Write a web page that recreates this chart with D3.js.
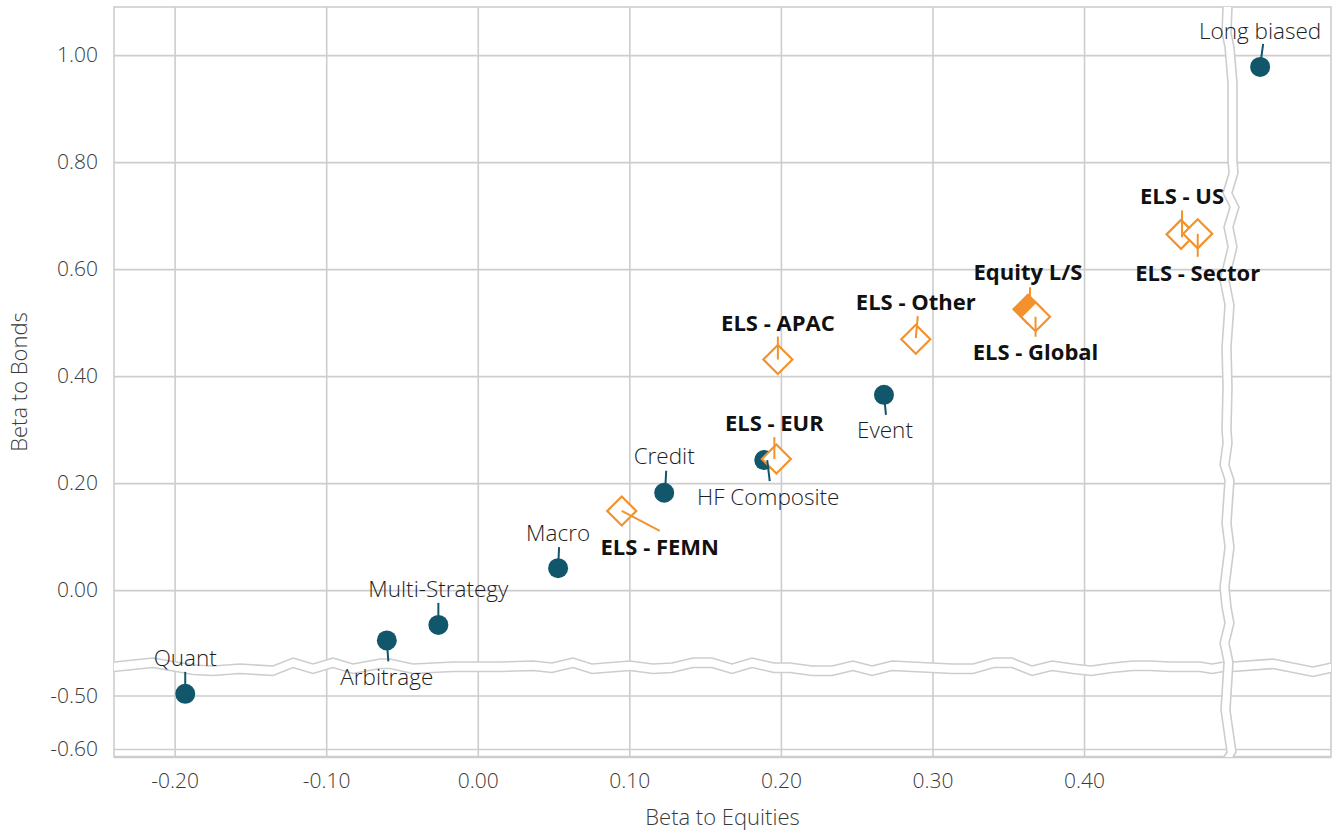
<!DOCTYPE html>
<html>
<head>
<meta charset="utf-8">
<script src="https://cdn.jsdelivr.net/npm/d3@7.9.0/dist/d3.min.js"></script>
<style>
body{margin:0;background:#fff;}
svg{display:block;font-family:"Open Sans","Noto Sans",sans-serif;}
.tick text{fill:#3a3a3a;font-size:21px;font-weight:300;}
.lbl{fill:#1e1e1e;font-size:22.5px;font-weight:300;}
.lbl.els{fill:#111;font-size:22px;font-weight:700;}
.ttl{fill:#3a3a3a;font-size:22px;font-weight:300;}
</style>
</head>
<body>
<svg width="1340" height="834"></svg>
<script>
// data
const names=['Quant','Arbitrage','Multi-Strategy','Macro','Credit','HF Composite','Event','Long biased',
 'ELS - FEMN','ELS - EUR','ELS - APAC','ELS - Other','Equity L/S','ELS - Global','ELS - US','ELS - Sector'];
const betaEquities=[-0.193,-0.060,-0.026,0.053,0.123,0.189,0.268,0.640,
 0.095,0.197,0.198,0.289,0.363,0.368,0.464,0.475];
const betaBonds=[-0.497,-0.094,-0.065,0.041,0.182,0.243,0.365,0.978,
 0.148,0.245,0.431,0.469,0.525,0.511,0.665,0.666];
const kind=['hf','hf','hf','hf','hf','hf','hf','hf','els','els','els','els','elsFull','els','els','els'];
const xTicks=[-0.2,-0.1,0,0.1,0.2,0.3,0.4];
const yTicksTop=[0,0.2,0.4,0.6,0.8,1.0];
const yTicksBot=[-0.5,-0.6];

// label placement (px offsets from the marker): [labelDx, labelDy, lineX1, lineY1, lineX2, lineY2]
const labelPlace={
 'Quant':[0,-28,0,-22,0,0],'Arbitrage':[0,45,0,0,1.5,21],'Multi-Strategy':[0,-28,0,-22,0,0],
 'Macro':[0,-27,1,-21,0,0],'Credit':[0,-29,2,-22,1,-3],'HF Composite':[4,45,3,0,5.5,21],
 'Event':[1,43,0,0,2,20],'Long biased':[0,-28,3,-23,1,-8],
 'ELS - FEMN':[38,44,0,0,38,20],'ELS - EUR':[-2,-28,-2,-22,-2,0],'ELS - APAC':[0,-29,0,-23,0,0],
 'ELS - Other':[0,-29,2,-23,0,-1],'Equity L/S':[0,-29,2,-22,2,-13],'ELS - Global':[0,43,0,0,0,20],
 'ELS - US':[1,-30,1,-24,1,3],'ELS - Sector':[0,47,0,0,0,23]};

const teal='#11566b',orange='#f3922c',grid='#cdcdcd';
const L=114,R=1331,T=7,B=757;
const svg=d3.select('svg');
const xLeft=d3.scaleLinear().domain([-0.24,0.493]).range([L,1225]);
const xRight=d3.scaleLinear().domain([0.622,0.687]).range([1233,R]);
const yTop=d3.scaleLinear().domain([-0.14,1.09]).range([665,T]);
const yBot=d3.scaleLinear().domain([-0.615,-0.455]).range([B,671.4]);
const X=v=>v>0.55?xRight(v):xLeft(v), Y=v=>v<-0.3?yBot(v):yTop(v);
const fmt=v=>d3.format('.2f')(v).replace('−','-');

// axes + gridlines
const ax=svg.append('g').attr('transform',`translate(0,${B})`)
 .call(d3.axisBottom(xLeft).tickValues(xTicks).tickFormat(fmt).tickSize(-(B-T)).tickPadding(16));
const ayT=svg.append('g').attr('transform',`translate(${L},0)`)
 .call(d3.axisLeft(yTop).tickValues(yTicksTop).tickFormat(fmt).tickSize(-(R-L)).tickPadding(16));
const ayB=svg.append('g').attr('transform',`translate(${L},0)`)
 .call(d3.axisLeft(yBot).tickValues(yTicksBot).tickFormat(fmt).tickSize(-(R-L)).tickPadding(16));
[ax,ayT,ayB].forEach(g=>{
 g.attr('font-family',null).attr('font-size',null);
 g.select('.domain').remove();
 g.selectAll('line').attr('stroke',grid).attr('stroke-width',1.6);
});

// frame
svg.append('rect').attr('x',L).attr('y',T).attr('width',R-L).attr('height',B-T)
 .attr('fill','none').attr('stroke',grid).attr('stroke-width',1.6);
svg.append('line').attr('x1',L).attr('x2',R).attr('y1',B).attr('y2',B).attr('stroke',grid).attr('stroke-width',2.6);

// axis breaks (decoration)
const hBreak=[[114,662],[153,658],[193,665],[213,666],[240,664],[273,666],[293,658],[313,664],[333,658],[353,664],
 [380,659],[390,659],[413,664],[453,662],[500,662],[533,661],[552,663],[573,658],[592,664],[630,661],[653,664],
 [672,663],[693,658],[712,658],[732,664],[752,658],[774,663],[790,663],[812,666],[832,666],[853,661],[872,666],
 [892,661],[932,663],[952,664],[973,664],[994,658],[1012,658],[1032,666],[1052,661],[1073,664],[1091,666],
 [1112,663],[1133,661],[1150,661],[1170,662],[1200,662],[1212,664],[1224,662],[1233,662],[1273,659],[1313,667],[1331,663]];
const vBreak=[[1223,T],[1222,33],[1225,47],[1228,83],[1228,160],[1229,173],[1223,193],[1230,207],[1224,227],
 [1228,247],[1220,280],[1225,305],[1222,347],[1223,387],[1222,430],[1223,443],[1220,465],[1225,480],[1222,523],
 [1225,547],[1220,587],[1222,607],[1225,623],[1220,643],[1224,662],[1221,710],[1227,752],[1224,B]];
const gapH=9.5,gapV=9;
const line=d3.line();
const hLow=hBreak.map(([x,y])=>[x,y+gapH]), vRight=vBreak.map(([x,y])=>[x+gapV,y]);
svg.append('path').attr('d',line(hBreak.concat(hLow.slice().reverse()))+'Z').attr('fill','#fff');
svg.append('path').attr('d',line(vBreak.concat(vRight.slice().reverse()))+'Z').attr('fill','#fff');
const brk=svg.append('g').attr('fill','none').attr('stroke',grid).attr('stroke-width',1.6);
[hBreak,hLow].forEach(pts=>{
 brk.append('path').attr('d',line(pts.filter(p=>p[0]<=1224)));
 brk.append('path').attr('d',line(pts.filter(p=>p[0]>=1233)));
});
[vBreak,vRight].forEach(pts=>brk.append('path').attr('d',line(pts)));

// data
const data=names.map((n,i)=>({name:n,x:betaEquities[i],y:betaBonds[i],kind:kind[i]}));
const diamond='M0,-14.5L14.5,0L0,14.5L-14.5,0Z';

svg.append('g').selectAll('circle').data(data.filter(d=>d.kind==='hf')).join('circle')
 .attr('cx',d=>X(d.x)).attr('cy',d=>Y(d.y)).attr('r',10).attr('fill',teal);

svg.append('g').selectAll('path').data(data.filter(d=>d.kind!=='hf')).join('path')
 .attr('d',diamond).attr('transform',d=>`translate(${X(d.x)},${Y(d.y)})`)
 .attr('fill',d=>d.kind==='elsFull'?orange:'#fff').attr('stroke',orange).attr('stroke-width',2.2);

svg.append('g').selectAll('line').data(data).join('line')
 .attr('x1',d=>X(d.x)+labelPlace[d.name][2]).attr('y1',d=>Y(d.y)+labelPlace[d.name][3])
 .attr('x2',d=>X(d.x)+labelPlace[d.name][4]).attr('y2',d=>Y(d.y)+labelPlace[d.name][5])
 .attr('stroke',d=>d.kind==='hf'?teal:orange).attr('stroke-width',2);

svg.append('g').selectAll('text').data(data).join('text')
 .attr('class',d=>d.kind==='hf'?'lbl':'lbl els').attr('text-anchor','middle')
 .attr('x',d=>X(d.x)+labelPlace[d.name][0]).attr('y',d=>Y(d.y)+labelPlace[d.name][1])
 .text(d=>d.name);

// titles
svg.append('text').attr('class','ttl').attr('text-anchor','middle').attr('x',(L+R)/2).attr('y',825).text('Beta to Equities');
svg.append('text').attr('class','ttl').attr('text-anchor','middle').attr('transform',`translate(27,${(T+B)/2}) rotate(-90)`).text('Beta to Bonds');
</script>
</body>
</html>
